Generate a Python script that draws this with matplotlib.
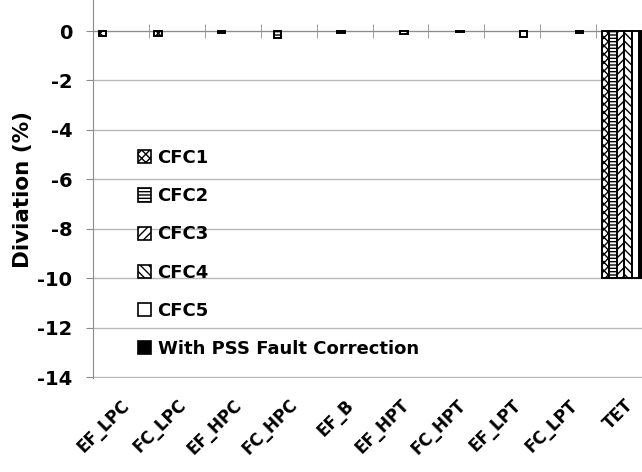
import matplotlib
matplotlib.use("Agg")
import matplotlib.pyplot as plt
from matplotlib.patches import Patch
import numpy as np

categories = ["EF_LPC", "FC_LPC", "EF_HPC", "FC_HPC", "EF_B",
              "EF_HPT", "FC_HPT", "EF_LPT", "FC_LPT", "TET"]
series_names = ["CFC1", "CFC2", "CFC3", "CFC4", "CFC5", "With PSS Fault Correction"]
cfc1 = [-0.2, -0.2, 0, 0, 0, 0, 0, 0, 0, -10]
cfc2 = [0, 0, -0.08, -0.3, 0, 0, 0, 0, 0, -10]
cfc3 = [0, 0, 0, 0, -0.06, 0, 0, 0, 0, -10]
cfc4 = [0, 0, 0, 0, 0, -0.12, -0.05, 0, 0, -10]
cfc5 = [0, 0, 0, 0, 0, 0, 0, -0.25, -0.1, -10]
pss = [0, 0, 0, 0, 0, 0, 0, 0, 0, -10]
yticks = [0, -2, -4, -6, -8, -10, -12, -14]

plt.rcParams['font.family'] = ['DejaVu Sans']
plt.rcParams['hatch.linewidth'] = 1.0

W, H = 642, 472
fig = plt.figure(figsize=(W / 100, H / 100), dpi=100)
left, right = 93, 652
top_px, bot_px = 0, 378
ax = fig.add_axes([left / W, (H - bot_px) / H, (right - left) / W, (bot_px - top_px) / H])

styles = [
    dict(facecolor="white", hatch="xxxx", edgecolor="black"),
    dict(facecolor="white", hatch="-----", edgecolor="black"),
    dict(facecolor="white", hatch="////", edgecolor="black"),
    dict(facecolor="white", hatch="\\\\\\\\", edgecolor="black"),
    dict(facecolor="white", edgecolor="black"),
    dict(facecolor="black", edgecolor="black"),
]
data = [cfc1, cfc2, cfc3, cfc4, cfc5, pss]
x = np.arange(len(categories))
n = len(data)
w = 1 / (n + 1.5)
for i, (vals, name, st) in enumerate(zip(data, series_names, styles)):
    vals = np.array(vals, dtype=float)
    lw = np.where(vals == 0, 0, 1.4)
    ax.bar(x + (i - (n - 1) / 2) * w, vals, width=w, label=name,
           linewidth=lw, zorder=3, **st)

ax.set_xlim(-0.5, len(categories) - 0.5)
ax.set_ylim(-14.04, 31 / 24.7)
ax.set_yticks(yticks)
ax.set_yticklabels([str(v) for v in yticks], fontsize=14, fontweight="bold")
ax.yaxis.grid(True, color="#b8b8b8", linewidth=1.0, zorder=0)
ax.set_axisbelow(True)

for s in ["right", "bottom"]:
    ax.spines[s].set_visible(False)
ax.spines["left"].set_color("#8c8c8c")
ax.spines["top"].set_position(("data", 0))
ax.spines["top"].set_color("#8c8c8c")
ax.spines["top"].set_zorder(2)

ax.set_xticks(x)
ax.set_xticklabels(categories, rotation=45, ha="right", va="top",
                   rotation_mode="anchor", fontsize=12, fontweight="bold")
ax.set_xticks(np.arange(len(categories)) + 0.5, minor=True)
ax.tick_params(axis="x", which="major", length=0, pad=13, top=False, bottom=True)
ax.tick_params(axis="x", which="minor", top=True, bottom=False, direction="inout",
               length=10, color="#8c8c8c")
ax.tick_params(axis="y", length=5, color="#8c8c8c", pad=10)

ax.set_ylabel("Diviation (%)", fontsize=15.5, fontweight="bold", labelpad=3)

handles = [Patch(linewidth=1.2, label=name, **st) for name, st in zip(series_names, styles)]
leg = ax.legend(handles=handles, loc="upper left", bbox_to_anchor=(0.067, 0.625),
                frameon=False, prop=dict(size=13, weight="bold"), handlelength=0.75,
                handleheight=0.75, handletextpad=0.35, labelspacing=1.12,
                borderaxespad=0)

fig.savefig("out.png", dpi=100)
